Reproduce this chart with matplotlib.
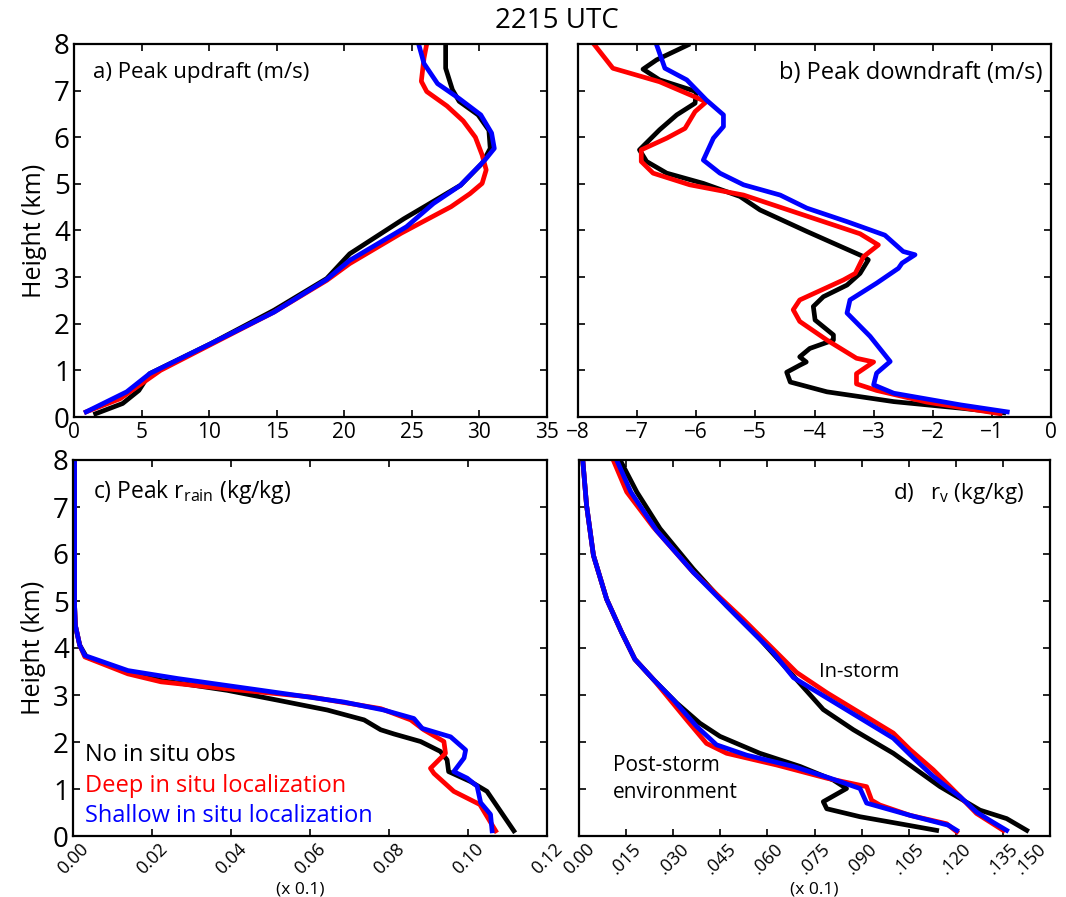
import numpy as np
import matplotlib.pyplot as plt

plt.rcParams['font.family'] = ['Open Sans', 'DejaVu Sans']
plt.rcParams['mathtext.fontset'] = 'custom'
plt.rcParams['mathtext.rm'] = 'Open Sans'

# a) peak updraft (m/s)
a_blk_x = [1.6, 3.6, 4.8, 5.6, 10.1, 14.8, 18.7, 20.4, 24.4, 26.1, 28.6, 30.2, 30.8, 30.7, 29.9, 28.5, 28.0, 27.5, 27.5]
a_blk_z = [0.07, 0.29, 0.57, 0.93, 1.57, 2.29, 2.97, 3.5, 4.25, 4.54, 4.97, 5.44, 5.76, 6.15, 6.48, 6.77, 7.02, 7.48, 8.0]
a_red_x = [0.9, 3.4, 6.4, 14.8, 18.7, 20.4, 24.2, 27.9, 29.3, 30.2, 30.5, 30.2, 29.7, 28.8, 27.6, 26.1, 25.7, 25.9, 26.1]
a_red_z = [0.11, 0.39, 1.0, 2.25, 2.93, 3.29, 3.94, 4.51, 4.79, 5.01, 5.3, 5.62, 6.0, 6.35, 6.67, 6.98, 7.2, 7.7, 8.0]
a_blu_x = [0.9, 3.9, 5.6, 10.1, 14.8, 18.7, 20.4, 24.6, 26.6, 28.6, 30.4, 31.1, 30.9, 30.1, 28.5, 26.9, 25.9, 25.5]
a_blu_z = [0.11, 0.54, 0.93, 1.57, 2.25, 2.95, 3.36, 4.08, 4.58, 4.97, 5.51, 5.76, 6.09, 6.48, 6.83, 7.15, 7.58, 8.0]

# b) peak downdraft (m/s)
b_blk_x = [-0.80, -1.53, -2.66, -3.79, -4.41, -4.47, -4.25, -4.14, -4.25, -4.08, -3.68, -3.68, -3.99, -4.02, -3.85,
           -3.45, -3.23, -3.09, -3.17, -4.13, -4.92, -5.26, -5.88, -6.50, -6.84, -6.96, -6.62, -6.33, -6.02, -6.0,
           -6.62, -6.90, -6.67, -6.14]
b_blk_z = [0.09, 0.19, 0.33, 0.54, 0.75, 0.96, 1.11, 1.18, 1.29, 1.47, 1.65, 1.76, 2.08, 2.37, 2.58,
           2.83, 3.08, 3.37, 3.44, 3.98, 4.44, 4.73, 5.01, 5.23, 5.48, 5.73, 6.16, 6.48, 6.73, 6.98,
           7.23, 7.46, 7.66, 7.98]
b_red_x = [-0.86, -2.10, -2.95, -3.29, -3.29, -3.00, -3.29, -3.79, -4.25, -4.36, -4.25, -3.51, -3.31, -3.17,
           -2.92, -3.23, -5.20, -6.11, -6.73, -6.93, -6.93, -6.50, -6.19, -6.02, -5.83, -6.62, -7.41, -7.72]
b_red_z = [0.07, 0.32, 0.57, 0.71, 0.93, 1.18, 1.26, 1.65, 2.05, 2.30, 2.51, 2.94, 3.08, 3.44,
           3.69, 3.93, 4.76, 4.98, 5.23, 5.48, 5.73, 5.98, 6.19, 6.55, 6.76, 7.19, 7.48, 7.98]
b_blu_x = [-0.74, -1.53, -2.66, -3.00, -2.95, -2.72, -3.06, -3.45, -3.40, -2.95, -2.58, -2.52, -2.30, -2.50,
           -2.81, -3.45, -4.13, -4.58, -5.20, -5.60, -5.88, -5.71, -5.54, -5.54, -5.83, -6.16, -6.53, -6.67]
b_blu_z = [0.11, 0.26, 0.51, 0.69, 0.94, 1.19, 1.73, 2.23, 2.51, 2.87, 3.19, 3.30, 3.48, 3.55,
           3.90, 4.19, 4.48, 4.76, 4.98, 5.23, 5.51, 5.98, 6.23, 6.48, 6.80, 7.23, 7.48, 7.98]

# c) peak rain mixing ratio (kg/kg, x 0.1)
c_blk_x = [0.1116, 0.1082, 0.1048, 0.1006, 0.0951, 0.0947, 0.0930, 0.0880, 0.0813, 0.0779, 0.0737, 0.0644,
           0.0518, 0.0390, 0.0223, 0.0139, 0.0034, 0.0017, 0.0006, 0.0004, 0.0004]
c_blk_z = [0.11, 0.53, 0.95, 1.16, 1.37, 1.62, 1.80, 2.01, 2.17, 2.26, 2.47, 2.68,
           2.89, 3.10, 3.31, 3.49, 3.81, 4.06, 4.48, 4.9, 8.0]
c_red_x = [0.1070, 0.1030, 0.0964, 0.0914, 0.0905, 0.0943, 0.0939, 0.0888, 0.0855, 0.0779, 0.0600, 0.0390,
           0.0223, 0.0139, 0.0030, 0.0017, 0.0006, 0.0004, 0.0004]
c_red_z = [0.11, 0.67, 0.95, 1.33, 1.44, 1.76, 2.01, 2.26, 2.47, 2.71, 2.96, 3.13,
           3.28, 3.45, 3.81, 4.06, 4.48, 4.9, 8.0]
c_blu_x = [0.1061, 0.1057, 0.1032, 0.1023, 0.0998, 0.0964, 0.0990, 0.0994, 0.0956, 0.0884, 0.0863, 0.0787,
           0.0686, 0.0476, 0.0265, 0.0139, 0.0030, 0.0017, 0.0006, 0.0004, 0.0004]
c_blu_z = [0.11, 0.46, 0.71, 1.06, 1.23, 1.37, 1.66, 1.83, 2.11, 2.29, 2.50, 2.68,
           2.85, 3.10, 3.35, 3.52, 3.84, 4.06, 4.48, 4.9, 8.0]

# d) water vapour mixing ratio (kg/kg, x 0.1), post-storm and in-storm
d_post_blk_x = [0.1139, 0.1022, 0.0895, 0.0789, 0.0778, 0.0852, 0.0810, 0.0704, 0.0576, 0.0449, 0.0385,
                0.0311, 0.0237, 0.0178, 0.0136, 0.0088, 0.0046, 0.0024, 0.0012]
d_post_blk_z = [0.12, 0.26, 0.41, 0.58, 0.73, 1.01, 1.19, 1.48, 1.76, 2.12, 2.40,
                2.83, 3.33, 3.76, 4.33, 5.04, 5.97, 7.04, 8.0]
d_post_red_x = [0.1203, 0.1171, 0.1054, 0.0958, 0.0932, 0.0916, 0.0789, 0.0630, 0.0470, 0.0406, 0.0343,
                0.0290, 0.0237, 0.0178, 0.0136, 0.0088, 0.0046, 0.0024, 0.0012]
d_post_red_z = [0.09, 0.26, 0.44, 0.66, 0.76, 1.05, 1.23, 1.51, 1.76, 1.97, 2.47,
                2.90, 3.33, 3.76, 4.33, 5.04, 5.97, 7.04, 8.0]
d_post_blu_x = [0.1203, 0.1176, 0.1054, 0.0916, 0.0895, 0.0800, 0.0683, 0.0534, 0.0438, 0.0375,
                0.0300, 0.0237, 0.0178, 0.0136, 0.0088, 0.0046, 0.0024, 0.0012]
d_post_blu_z = [0.12, 0.23, 0.44, 0.70, 1.01, 1.23, 1.48, 1.72, 1.94, 2.33,
                2.90, 3.33, 3.76, 4.33, 5.04, 5.97, 7.04, 8.0]
d_in_blk_x = [0.1426, 0.1362, 0.1277, 0.1150, 0.1001, 0.0874, 0.0778, 0.0683, 0.0576, 0.0470, 0.0364,
              0.0258, 0.0184, 0.0131]
d_in_blk_z = [0.12, 0.37, 0.55, 1.05, 1.76, 2.26, 2.69, 3.40, 4.19, 4.90, 5.68, 6.54, 7.32, 8.0]
d_in_red_x = [0.1351, 0.1266, 0.1203, 0.1128, 0.1054, 0.1001, 0.0895, 0.0789, 0.0693, 0.0630, 0.0523,
              0.0364, 0.0237, 0.0152, 0.0109]
d_in_red_z = [0.12, 0.48, 0.91, 1.41, 1.84, 2.19, 2.62, 3.05, 3.48, 3.90, 4.61, 5.61, 6.57, 7.32, 8.0]
d_in_blu_x = [0.1362, 0.1309, 0.1266, 0.1213, 0.1170, 0.1128, 0.1065, 0.1001, 0.0895, 0.0789, 0.0683,
              0.0619, 0.0502, 0.0364, 0.0247, 0.0165, 0.0120]
d_in_blu_z = [0.12, 0.33, 0.51, 0.84, 1.05, 1.27, 1.66, 2.08, 2.51, 2.94, 3.37, 3.90, 4.68, 5.61, 6.50, 7.32, 8.0]

legend_labels = ['No in situ obs', 'Deep in situ localization', 'Shallow in situ localization']
colors = ['black', '#ff0000', '#0000ff']

c_ticks = [0.00, 0.02, 0.04, 0.06, 0.08, 0.10, 0.12]
c_ticklabels = ['0.00', '0.02', '0.04', '0.06', '0.08', '0.10', '0.12']
d_ticks = [0.0, 0.015, 0.03, 0.045, 0.06, 0.075, 0.09, 0.105, 0.12, 0.135, 0.15]
d_ticklabels = ['0.00', '.015', '.030', '.045', '.060', '.075', '.090', '.105', '.120', '.135', '.150']

W, H = 1066, 897
fig = plt.figure(figsize=(W / 100, H / 100), dpi=100)

def add_ax(left, top, right, bottom):
    return fig.add_axes([left / W, (H - bottom) / H, (right - left) / W, (bottom - top) / H])

ax_a = add_ax(74, 44, 547, 417)
ax_b = add_ax(578, 44, 1051, 417)
ax_c = add_ax(73, 460, 547, 836)
ax_d = add_ax(579, 460, 1050, 836)

lw = 3.4
for ax in [ax_a, ax_b, ax_c, ax_d]:
    ax.set_ylim(0, 8)
    ax.set_yticks(range(9))
    ax.tick_params(direction='in', top=True, right=True, length=5, width=1.2, labelsize=15)
    ax.tick_params(axis='y', labelsize=20, pad=3)
    for s in ax.spines.values():
        s.set_linewidth(1.6)

series_a = [(a_blk_x, a_blk_z), (a_red_x, a_red_z), (a_blu_x, a_blu_z)]
series_b = [(b_blk_x, b_blk_z), (b_red_x, b_red_z), (b_blu_x, b_blu_z)]
series_c = [(c_blk_x, c_blk_z), (c_red_x, c_red_z), (c_blu_x, c_blu_z)]
for (x, z), col in zip(series_a, colors):
    ax_a.plot(x, z, color=col, lw=lw)
for (x, z), col in zip(series_b, colors):
    ax_b.plot(x, z, color=col, lw=lw)
for (x, z), col in zip(series_c, colors):
    ax_c.plot(x, z, color=col, lw=lw)
series_d = [(d_post_blk_x, d_post_blk_z), (d_post_red_x, d_post_red_z), (d_post_blu_x, d_post_blu_z)]
series_d_in = [(d_in_blk_x, d_in_blk_z), (d_in_red_x, d_in_red_z), (d_in_blu_x, d_in_blu_z)]
for (x, z), col in zip(series_d, colors):
    ax_d.plot(x, z, color=col, lw=lw)
for (x, z), col in zip(series_d_in, colors):
    ax_d.plot(x, z, color=col, lw=lw)

ax_a.set_xlim(0, 35)
ax_a.set_xticks(range(0, 36, 5))
ax_b.set_xlim(-8, 0)
ax_b.set_xticks(range(-8, 1))
ax_b.set_yticklabels([])
ax_c.set_xlim(0, 0.12)
ax_c.set_xticks(c_ticks)
ax_c.set_xticklabels(c_ticklabels, rotation=45, ha='center', va='top', fontsize=13)
ax_d.set_xlim(0, 0.15)
ax_d.set_xticks(d_ticks)
ax_d.set_xticklabels(d_ticklabels, rotation=45, ha='center', va='top', fontsize=13)
ax_d.get_xticklabels()[-1].set_ha('right')  # keep the last label inside the canvas
ax_d.set_yticklabels([])
for ax in [ax_c, ax_d]:
    ax.tick_params(axis='x', pad=3)

ax_a.set_ylabel('Height (km)', fontsize=18, labelpad=5)
ax_c.set_ylabel('Height (km)', fontsize=18, labelpad=5)

fig.text(557 / W, 1 - 21 / H, '2215 UTC', ha='center', va='center', fontsize=20)

ax_a.text(0.04, 0.91, 'a) Peak updraft (m/s)', transform=ax_a.transAxes, fontsize=16, va='baseline')
ax_b.text(0.981, 0.906, 'b) Peak downdraft (m/s)', transform=ax_b.transAxes, fontsize=17,
          va='baseline', ha='right')
ax_c.text(0.042, 0.90, r'c) Peak r$_{\mathregular{rain}}$ (kg/kg)', transform=ax_c.transAxes,
          fontsize=16.5, va='baseline')
ax_d.text(0.945, 0.897, r'd)   r$_{\mathregular{v}}$ (kg/kg)', transform=ax_d.transAxes,
          fontsize=16, va='baseline', ha='right')

for i, (lab, col) in enumerate(zip(legend_labels, colors)):
    ax_c.text(0.025, 0.199 - i * 0.081, lab, color=col, transform=ax_c.transAxes,
              fontsize=17, va='baseline')

ax_d.text(0.51, 0.423, 'In-storm', transform=ax_d.transAxes, fontsize=14.5, va='baseline')
ax_d.text(0.072, 0.173, 'Post-storm', transform=ax_d.transAxes, fontsize=15, va='baseline')
ax_d.text(0.072, 0.10, 'environment', transform=ax_d.transAxes, fontsize=15, va='baseline')

ax_c.text(0.479, -0.142, '(x 0.1)', transform=ax_c.transAxes, fontsize=12.5, ha='center', va='center')
ax_d.text(0.50, -0.142, '(x 0.1)', transform=ax_d.transAxes, fontsize=12.5, ha='center', va='center')

fig.savefig('out.png', dpi=100)
